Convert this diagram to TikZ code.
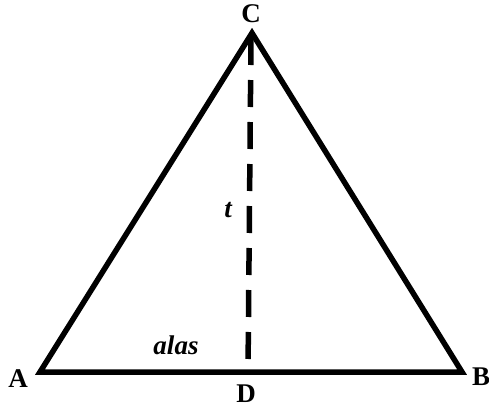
\documentclass[tikz,border=0pt]{standalone}
\usepackage{fontspec}
\setmainfont{Liberation Serif}
\begin{document}
\begin{tikzpicture}[x=1pt,y=-1pt,
  edge/.style={line width=5.5pt,line join=miter},
  height/.style={line width=5.5pt,dash pattern=on 27pt off 15pt},
  lbl/.style={font=\fontsize{27}{29}\selectfont\bfseries,inner sep=0pt},
  ilbl/.style={font=\fontsize{27}{29}\selectfont\bfseries\itshape,inner sep=0pt}]
\useasboundingbox[fill=white] (0,0) rectangle (489,408);
\coordinate (A) at (40,372);
\coordinate (B) at (462,372);
\coordinate (C) at (252,33);
\coordinate (D) at (248,372);
\draw[edge] (A) -- (B) -- (C) -- cycle;
\coordinate (Ctop) at (251,38);
\draw[height] (Ctop) -- (D);
\node[lbl] (lC) at (251,14) {C};
\node[lbl] (lA) at (18,379) {A};
\node[lbl] (lB) at (481,377) {B};
\node[lbl] (lD) at (246,394) {D};
\node[ilbl] (lt) at (228,210) {t};
\node[ilbl] (lalas) at (176,345) {alas};
\end{tikzpicture}
\end{document}
